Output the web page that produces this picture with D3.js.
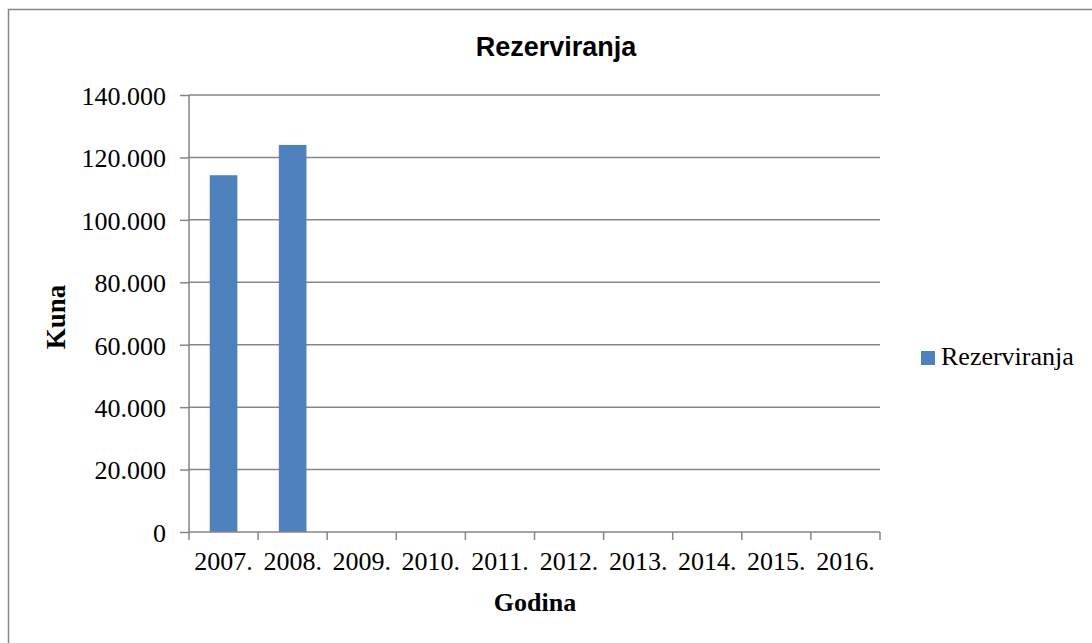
<!DOCTYPE html>
<html><head><meta charset="utf-8">
<script src="https://cdn.jsdelivr.net/npm/d3@7"></script>
<style>body{margin:0;background:#fff;}svg{display:block;}</style>
</head><body>
<script>
const categories = ["2007.","2008.","2009.","2010.","2011.","2012.","2013.","2014.","2015.","2016."];
const values = [114300,124000,null,null,null,null,null,null,null,null];
const yTicks = [0,20000,40000,60000,80000,100000,120000,140000];
const seriesName = "Rezerviranja";
const title = "Rezerviranja";
const xTitle = "Godina";
const yTitle = "Kuna";

const W=1092,H=643;
const svg=d3.select("body").append("svg").attr("width",W).attr("height",H);
svg.append("rect").attr("x",8.5).attr("y",9.5).attr("width",W).attr("height",H).attr("fill","#fff").attr("stroke","#868686").attr("stroke-width",1.5);

const L=189,R=880,T=95,B=532;
const x=d3.scaleBand().domain(categories).range([L,R]).paddingInner(0.6).paddingOuter(0.3);
const xb=d3.scaleBand().domain(categories).range([L,R]);
const y=d3.scaleLinear().domain([0,140000]).range([B,T]);
const fmt=v=>d3.format(",")(v).replace(/,/g,".");

// gridlines
svg.append("g").selectAll("line").data(yTicks.filter(d=>d>0)).join("line")
 .attr("x1",L).attr("x2",R).attr("y1",d=>y(d)).attr("y2",d=>y(d))
 .attr("stroke","#868686").attr("stroke-width",1.5);

// bars
svg.append("g").selectAll("rect").data(categories.map((c,i)=>({c,v:values[i]})).filter(d=>d.v!=null)).join("rect")
 .attr("x",d=>x(d.c)).attr("width",x.bandwidth()).attr("y",d=>y(d.v)).attr("height",d=>B-y(d.v))
 .attr("fill","#4f81bd");

// y axis
const ya=svg.append("g").attr("transform",`translate(${L},0)`).call(d3.axisLeft(y).tickValues(yTicks).tickSize(9).tickPadding(14).tickFormat(fmt));
ya.select(".domain").attr("stroke","#868686").attr("stroke-width",1.5).attr("d",`M0,${T}V${B}`);
ya.selectAll(".tick line").attr("stroke","#868686").attr("stroke-width",1.5);
ya.selectAll(".tick text").attr("font-family","Liberation Serif").attr("font-size",26).attr("fill","#000").attr("dy","0.36em");

// x axis
const xa=svg.append("g").attr("transform",`translate(0,${B})`).call(d3.axisBottom(xb).tickSize(0).tickPadding(20));
xa.select(".domain").attr("stroke","#868686").attr("stroke-width",1.5).attr("d",`M${L},0H${R}`);
xa.selectAll(".tick line").remove();
xa.selectAll(".tick text").attr("font-family","Liberation Serif").attr("font-size",26).attr("fill","#000");
const edges=categories.map(c=>xb(c)).concat([R]);
svg.append("g").selectAll("line").data(edges).join("line")
 .attr("x1",d=>d).attr("x2",d=>d).attr("y1",B).attr("y2",B+8)
 .attr("stroke","#868686").attr("stroke-width",1.5);

// titles
svg.append("text").attr("x",556).attr("y",56).attr("text-anchor","middle")
 .attr("font-family","Liberation Sans").attr("font-weight","bold").attr("font-size",27).text(title);
svg.append("text").attr("x",535).attr("y",611).attr("text-anchor","middle")
 .attr("font-family","Liberation Serif").attr("font-weight","bold").attr("font-size",26).text(xTitle);
svg.append("text").attr("transform",`translate(65,317) rotate(-90)`).attr("text-anchor","middle")
 .attr("font-family","Liberation Serif").attr("font-weight","bold").attr("font-size",27).text(yTitle);

// legend
svg.append("rect").attr("x",921).attr("y",351).attr("width",14).attr("height",14).attr("fill","#4f81bd");
svg.append("text").attr("x",941).attr("y",365).attr("font-family","Liberation Serif").attr("font-size",26).text(seriesName);
</script>
</body></html>
